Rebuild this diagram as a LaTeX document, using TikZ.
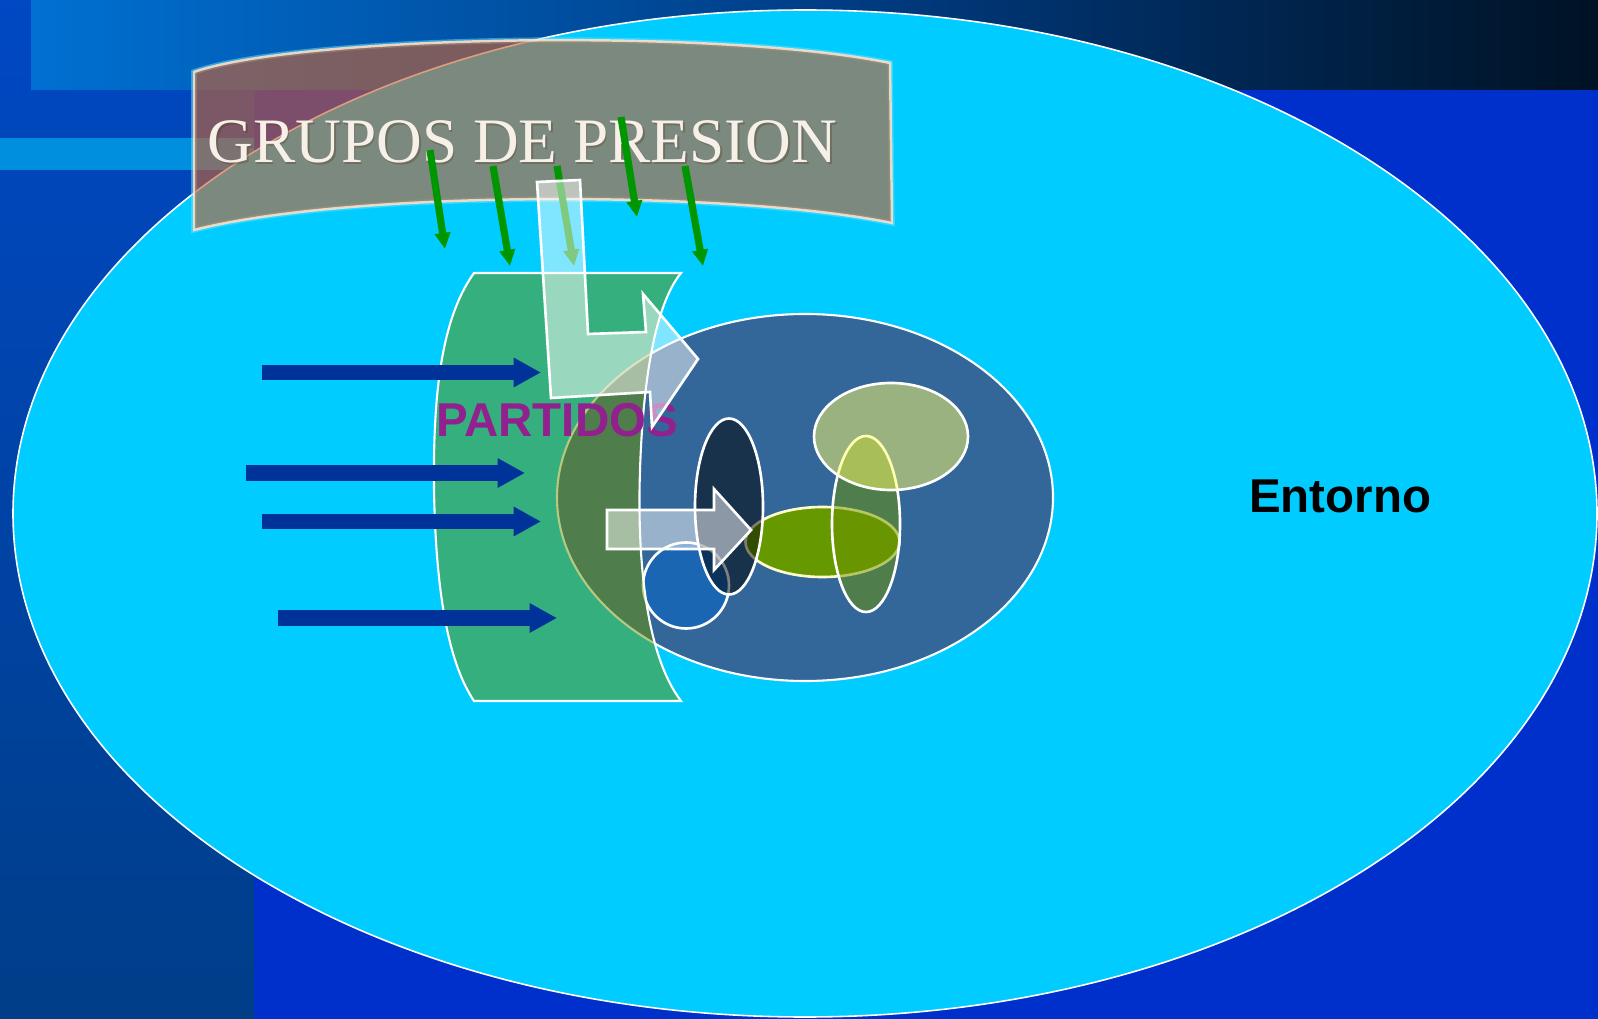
\documentclass[tikz,border=0pt]{standalone}
\usepackage{fontspec}
\setmainfont{Liberation Serif}
\setsansfont{Liberation Sans}
\usetikzlibrary{arrows.meta}
\definecolor{bgblue}{RGB}{0,48,204}
\definecolor{stripT}{RGB}{0,72,196}
\definecolor{stripB}{RGB}{0,62,136}
\definecolor{bandA}{RGB}{0,112,210}
\definecolor{bandB}{RGB}{0,62,135}
\definecolor{bandC}{RGB}{0,18,36}
\definecolor{stripe}{RGB}{0,142,222}
\definecolor{entorno}{RGB}{0,204,255}
\definecolor{sysblue}{RGB}{51,102,153}
\definecolor{circblue}{RGB}{26,102,179}
\definecolor{limeg}{RGB}{102,153,0}
\definecolor{oliveg}{RGB}{108,148,0}
\definecolor{yellowg}{RGB}{255,255,102}
\definecolor{bannerc}{RGB}{201,97,48}
\definecolor{navyarrow}{RGB}{0,51,153}
\definecolor{greenarrow}{RGB}{0,150,0}
\definecolor{partidosc}{RGB}{146,32,142}
\definecolor{bannertext}{RGB}{246,240,232}
\tikzset{
  bluearrow/.style={draw=navyarrow, line width=4.27pt, -{Triangle[length=7.8pt,width=7.9pt]}},
  greenarr/.style={draw=greenarrow, line width=2.05pt, -{Triangle[length=4.6pt,width=4.3pt]}},
  lightarrow/.style={fill=white, fill opacity=0.5, draw=white, draw opacity=1, line width=0.75pt, line join=miter},
  innershape/.style={draw=white, line width=0.75pt},
}
\begin{document}
\begin{tikzpicture}[x=0.01cm,y=-0.01cm]
\useasboundingbox (0,0) rectangle (1598,1019);
\clip (0,0) rectangle (1598,1019);
% background
\fill[bgblue] (0,0) rectangle (1598,1019);
\fill[top color=stripT, bottom color=stripB] (0,0) rectangle (254,1019);
\fill[left color=bandA, right color=bandC, middle color=bandB] (31,0) rectangle (1598,90);
\fill[stripe] (0,138) rectangle (254,170);
% environment ellipse
\filldraw[fill=entorno, draw=white, line width=0.45pt] (805,513.5) ellipse [x radius=792, y radius=503.5];
% system ellipse
\filldraw[fill=sysblue, draw=white, line width=0.6pt] (805,497.5) ellipse [x radius=248, y radius=183.5];
% inner shapes
\filldraw[innershape, fill=circblue] (686,585.5) circle [radius=43];
\filldraw[innershape, fill=limeg, draw=white!80!yellow] (822.5,542) ellipse [x radius=77, y radius=35];
\filldraw[innershape, fill=black, fill opacity=0.5] (729,506.5) ellipse [x radius=34, y radius=88];
\filldraw[innershape, fill=oliveg, fill opacity=0.5] (866,524) ellipse [x radius=34, y radius=88];
\filldraw[innershape, fill=yellowg, fill opacity=0.5] (891,436.5) ellipse [x radius=77, y radius=53.5];
% partidos shape
\filldraw[fill=oliveg, fill opacity=0.5, draw=white, line width=0.6pt]
  (474,273) -- (681,273) .. controls (655,305) and (643,380) .. (640,470)
  .. controls (637,560) and (646,655) .. (681,701) -- (474,701)
  .. controls (450,665) and (436,600) .. (434,490)
  .. controls (433,400) and (440,320) .. (474,273) -- cycle;
% banner
\draw[draw=entorno!60!white, draw opacity=0.5, line width=1.6pt]
  (194,230) -- (194,72) .. controls (300,35) and (720,28) .. (890,63)
  -- (892,223) .. controls (730,190) and (350,190) .. (194,230) -- cycle;
\filldraw[fill=bannerc, fill opacity=0.62, draw=white!80!orange, draw opacity=0.85, line width=0.7pt]
  (194,230) -- (194,72) .. controls (300,35) and (720,28) .. (890,63)
  -- (892,223) .. controls (730,190) and (350,190) .. (194,230) -- cycle;
\node[anchor=base, text=black!60!brown, opacity=0.3, font=\fontsize{18}{20}\selectfont, inner sep=0pt] (bannershadow) at (524,164.5) {GRUPOS DE PRESION};
\node[anchor=base, text=bannertext, font=\fontsize{18}{20}\selectfont, inner sep=0pt] (banner) at (522.5,162.5) {GRUPOS DE PRESION};
% blue arrows
\coordinate (b1s) at (262,372.5); \coordinate (b1e) at (541,372.5);
\coordinate (b2s) at (246,473);   \coordinate (b2e) at (525,473);
\coordinate (b3s) at (262,521.5); \coordinate (b3e) at (541,521.5);
\coordinate (b4s) at (278,618);   \coordinate (b4e) at (557,618);
\draw[bluearrow] (b1s) -- (b1e);
\draw[bluearrow] (b2s) -- (b2e);
\draw[bluearrow] (b3s) -- (b3e);
\draw[bluearrow] (b4s) -- (b4e);
% labels
\node[anchor=base, text=partidosc, font=\sffamily\bfseries\fontsize{13.5}{16}\selectfont, inner sep=0pt] (partidos) at (557,436.7) {PARTIDOS};
\node[anchor=base, text=black, font=\sffamily\bfseries\fontsize{13.5}{16}\selectfont, inner sep=0pt] (entorno) at (1340,512) {Entorno};
% green arrows
\coordinate (g1s) at (430,150); \coordinate (g1e) at (445,249);
\coordinate (g2s) at (493,166); \coordinate (g2e) at (510,266);
\coordinate (g3s) at (557,166); \coordinate (g3e) at (574,266);
\coordinate (g4s) at (621,117); \coordinate (g4e) at (637,217);
\coordinate (g5s) at (685,166); \coordinate (g5e) at (703,266);
\draw[greenarr] (g1s) -- (g1e);
\draw[greenarr] (g2s) -- (g2e);
\draw[greenarr] (g3s) -- (g3e);
\draw[greenarr] (g4s) -- (g4e);
\draw[greenarr] (g5s) -- (g5e);
% light translucent arrows
\filldraw[lightarrow] (537,182) -- (580,180) -- (588,334) -- (646,332) -- (643,294)
  -- (698,359) -- (652,427) -- (650,392) -- (551,398) -- cycle;
\filldraw[lightarrow] (607,510) -- (714,510) -- (714,489) -- (751,530) -- (714,570)
  -- (714,549) -- (607,549) -- cycle;
\end{tikzpicture}
\end{document}
